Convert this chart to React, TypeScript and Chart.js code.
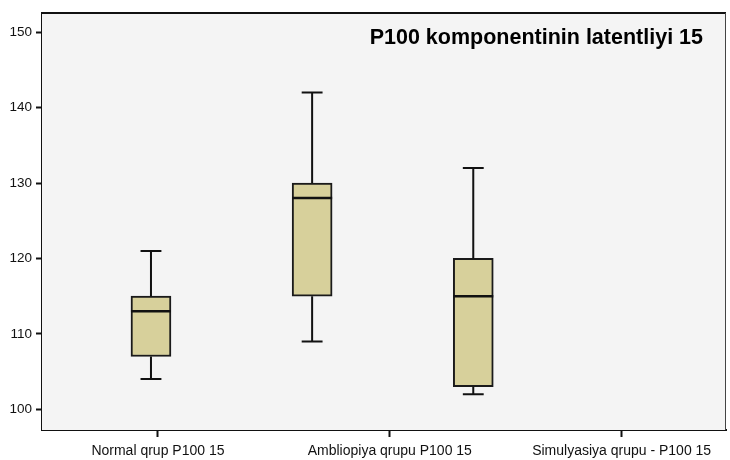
import React, { useEffect, useRef } from "react";
import { Chart, registerables } from "chart.js";

Chart.register(...registerables);

const CATEGORIES = ["Normal qrup P100 15", "Ambliopiya qrupu P100 15", "Simulyasiya qrupu - P100 15"];
const CATEGORY_TICKS = [0, 1, 2];
const BOX_POSITIONS = [-0.03, 0.665, 1.36];
const MINS = [104, 109, 102];
const Q1S = [107, 115, 103];
const MEDIANS = [113, 128, 115];
const Q3S = [115, 130, 120];
const MAXS = [121, 142, 132];
const Y_TICKS = [100, 110, 120, 130, 140, 150];
const TITLE = "P100 komponentinin latentliyi 15";

const FONT = '"Liberation Sans", Arial, sans-serif';
const CAP_HALF = 0.045;
const BOX_HALF = 0.0864;

export default function App() {
  const ref = useRef<HTMLCanvasElement | null>(null);

  useEffect(() => {
    if (!ref.current) return;
    const brk = (x: number) => ({ x, y: null as any });
    const whisker: any[] = [];
    const medians: any[] = [];
    BOX_POSITIONS.forEach((p, i) => {
      whisker.push({ x: p, y: Q3S[i] }, { x: p, y: MAXS[i] }, brk(p));
      whisker.push({ x: p - CAP_HALF, y: MAXS[i] }, { x: p + CAP_HALF, y: MAXS[i] }, brk(p));
      whisker.push({ x: p, y: Q1S[i] }, { x: p, y: MINS[i] }, brk(p));
      whisker.push({ x: p - CAP_HALF, y: MINS[i] }, { x: p + CAP_HALF, y: MINS[i] }, brk(p));
      medians.push({ x: p - BOX_HALF, y: MEDIANS[i] }, { x: p + BOX_HALF, y: MEDIANS[i] }, brk(p));
    });

    const framePlugin = {
      id: "frame",
      beforeDatasetsDraw(chart: any) {
        const { ctx, chartArea: a } = chart;
        ctx.save();
        ctx.fillStyle = "#f4f4f4";
        ctx.fillRect(a.left, a.top, a.right - a.left, a.bottom - a.top);
        ctx.restore();
      },
      afterDraw(chart: any) {
        const { ctx, chartArea: a } = chart;
        ctx.save();
        ctx.strokeStyle = "#111";
        ctx.lineWidth = 2;
        ctx.beginPath();
        ctx.moveTo(a.right, a.top);
        ctx.lineTo(a.left, a.top);
        ctx.stroke();
        ctx.lineWidth = 1;
        ctx.strokeStyle = "#444";
        ctx.beginPath();
        ctx.moveTo(a.right - 0.5, a.top);
        ctx.lineTo(a.right - 0.5, a.bottom);
        ctx.stroke();
        ctx.fillStyle = "#000";
        ctx.font = "bold 21.5px " + FONT;
        ctx.textAlign = "right";
        ctx.textBaseline = "alphabetic";
        ctx.fillText(TITLE, a.right - 23, a.top + 31);
        ctx.restore();
      },
    };

    const chart = new Chart(ref.current, {
      type: "bar",
      data: {
        datasets: [
          {
            type: "bar",
            data: BOX_POSITIONS.map((p, i) => ({ x: p, y: [Q1S[i], Q3S[i]] })) as any,
            backgroundColor: "#d7d09b",
            borderColor: "#1a1a1a",
            borderWidth: 2,
            borderSkipped: false,
            barThickness: 40,
            order: 2,
          } as any,
          {
            type: "line",
            data: whisker,
            borderColor: "#111",
            borderWidth: 2,
            pointRadius: 0,
            spanGaps: false,
            order: 1,
          } as any,
          {
            type: "line",
            data: medians,
            borderColor: "#111",
            borderWidth: 2.5,
            pointRadius: 0,
            spanGaps: false,
            order: 0,
          } as any,
        ],
      },
      options: {
        responsive: false,
        animation: false,
        layout: { padding: { top: 13, right: 4, left: 0, bottom: 0 } },
        plugins: { legend: { display: false }, tooltip: { enabled: false }, title: { display: false } },
        scales: {
          x: {
            type: "linear",
            min: -0.5,
            max: 2.45,
            offset: false,
            afterBuildTicks: (s: any) => {
              s.ticks = CATEGORY_TICKS.map((v) => ({ value: v }));
            },
            afterFit: (s: any) => {
              s.height = 30;
            },
            grid: { offset: false, drawOnChartArea: false, drawTicks: true, tickLength: 7, tickColor: "#111", tickWidth: 2 },
            border: { display: true, color: "#111", width: 2 },
            ticks: {
              autoSkip: false,
              maxRotation: 0,
              padding: 6,
              color: "#111",
              font: { family: FONT, size: 14 },
              callback: (v: any) => CATEGORIES[CATEGORY_TICKS.indexOf(Number(v))] ?? "",
            },
          },
          y: {
            type: "linear",
            min: 97.25,
            max: 152.55,
            afterBuildTicks: (s: any) => {
              s.ticks = Y_TICKS.map((v) => ({ value: v }));
            },
            afterFit: (s: any) => {
              s.width = 42;
            },
            grid: { drawOnChartArea: false, drawTicks: true, tickLength: 6, tickColor: "#111", tickWidth: 2 },
            border: { display: true, color: "#111", width: 2 },
            ticks: {
              padding: 4,
              color: "#111",
              font: { family: FONT, size: 13.5 },
            },
          },
        },
      },
      plugins: [framePlugin],
    });
    return () => chart.destroy();
  }, []);

  return (
    <div style={{ position: "fixed", left: 0, top: 0, width: 730, height: 460, background: "#fff" }}>
      <canvas ref={ref} width={730} height={460} style={{ display: "block" }} />
    </div>
  );
}
